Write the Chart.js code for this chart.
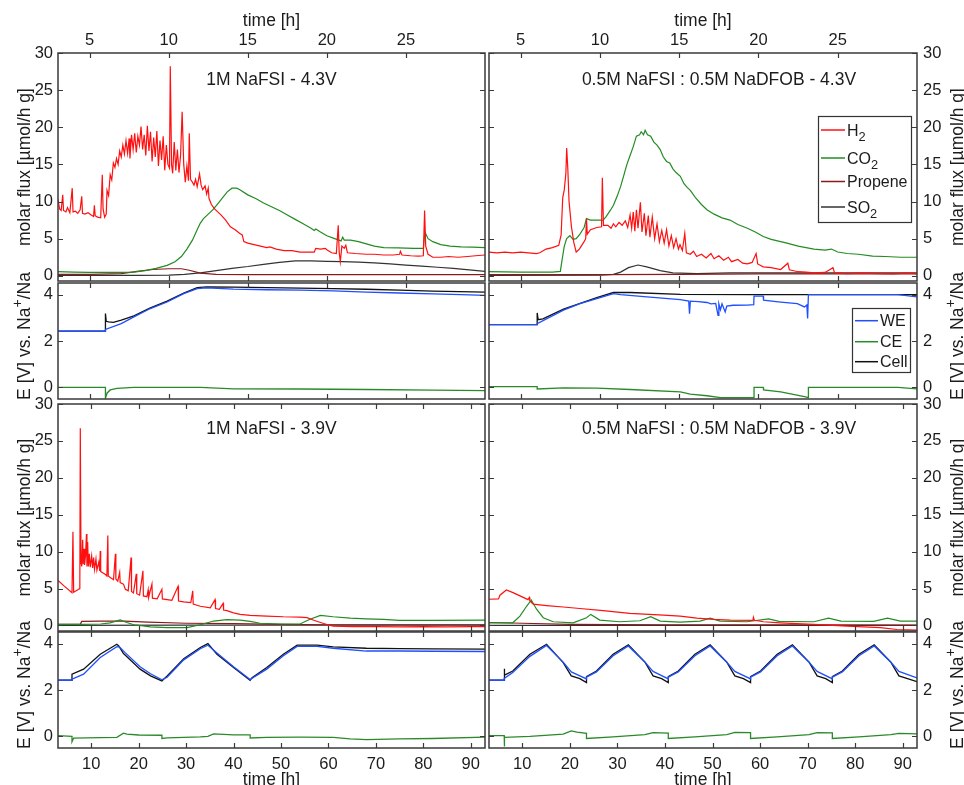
<!DOCTYPE html>
<html>
<head>
<meta charset="utf-8">
<script src="https://cdn.jsdelivr.net/npm/chart.js@4.4.1/dist/chart.umd.min.js"></script>
<style>
  body { margin: 0; background: #fff; }
  #wrap { position: relative; width: 964px; height: 785px; overflow: hidden; }
  #wrap canvas { position: absolute; left: 0; top: 0; }
</style>
</head>
<body>
<div id="wrap">
  <canvas id="c0" width="964" height="785"></canvas>
  <canvas id="c1" width="964" height="785"></canvas>
  <canvas id="c2" width="964" height="785"></canvas>
  <canvas id="c3" width="964" height="785"></canvas>
  <canvas id="c4" width="964" height="785"></canvas>
  <canvas id="c5" width="964" height="785"></canvas>
  <canvas id="c6" width="964" height="785"></canvas>
  <canvas id="c7" width="964" height="785"></canvas>
</div>
<script>
// ---- tick labels / text ----
var xTicksShort = [5, 10, 15, 20, 25];
var xTicksLong = [10, 20, 30, 40, 50, 60, 70, 80, 90];
var yTicksFlux = [0, 5, 10, 15, 20, 25, 30];
var yTicksVolt = [0, 2, 4];
var panelTitles = ['1M NaFSI - 4.3V', '0.5M NaFSI : 0.5M NaDFOB - 4.3V', '1M NaFSI - 3.9V', '0.5M NaFSI : 0.5M NaDFOB - 3.9V'];
var gasNames = ['H_2', 'CO_2', 'Propene', 'SO_2'];
var electrodeNames = ['WE', 'CE', 'Cell'];

// ---- 1M NaFSI - 4.3V (time [h], flux) ----
var h2_a = [[3.0,10.3],[3.1,9.0],[3.2,8.8],[3.3,10.9],[3.35,8.8],[3.5,8.6],[3.6,9.2],[3.75,8.5],[3.9,11.8],[3.95,8.6],[4.1,8.7],[4.25,8.4],[4.4,8.9],[4.5,10.7],[4.55,8.4],[4.7,8.3],[4.9,8.5],[5.1,8.2],[5.25,8.0],[5.3,9.5],[5.35,8.1],[5.5,7.9],[5.7,7.8],[5.8,13.6],[5.85,9.0],[5.95,7.9],[6.05,8.3],[6.1,11.5],[6.2,10.8],[6.3,13.6],[6.4,12.9],[6.5,15.2],[6.6,14.6],[6.7,15.8],[6.8,15.0],[6.9,16.8],[7.0,16.0],[7.1,17.6],[7.2,16.4],[7.3,18.2],[7.4,16.5],[7.5,18.5],[7.55,15.8],[7.65,19.0],[7.75,17.0],[7.85,19.2],[7.95,16.6],[8.05,18.8],[8.15,17.6],[8.25,20.1],[8.35,17.0],[8.45,19.0],[8.55,16.2],[8.65,20.2],[8.75,16.8],[8.85,19.4],[8.95,15.4],[9.05,18.6],[9.15,16.0],[9.25,19.5],[9.35,14.8],[9.45,18.2],[9.55,15.6],[9.65,18.8],[9.75,14.2],[9.85,17.6],[9.95,15.0],[10.05,14.5],[10.1,28.2],[10.18,15.0],[10.25,13.8],[10.35,18.0],[10.45,14.2],[10.55,17.0],[10.65,13.9],[10.75,16.2],[10.85,22.1],[10.95,15.0],[11.05,12.6],[11.15,14.8],[11.25,12.8],[11.3,19.2],[11.38,13.0],[11.5,12.6],[11.6,12.2],[11.7,13.0],[11.8,12.0],[11.95,13.7],[12.05,12.2],[12.15,11.6],[12.3,12.1],[12.4,11.0],[12.5,11.8],[12.55,10.4],[12.7,9.6],[12.9,9.0],[13.1,8.6],[13.3,8.2],[13.6,7.5],[13.9,6.6],[14.2,6.2],[14.5,5.7],[14.65,5.5],[14.75,4.6],[15.0,4.4],[15.4,4.2],[15.8,4.0],[16.2,3.8],[16.4,3.9],[16.8,3.6],[17.3,3.4],[17.8,3.4],[18.3,3.2],[18.8,3.2],[19.2,3.2],[19.3,3.7],[19.6,3.6],[19.9,3.7],[20.0,3.5],[20.3,3.1],[20.6,3.0],[20.72,6.8],[20.78,3.2],[20.85,1.9],[20.95,4.0],[21.1,3.7],[21.2,4.1],[21.3,3.1],[21.8,3.0],[22.5,2.9],[23.0,2.9],[23.6,2.8],[24.2,2.8],[24.6,2.9],[24.65,3.3],[24.75,2.8],[25.3,2.7],[25.8,2.65],[26.1,2.7],[26.18,8.8],[26.25,4.0],[26.4,2.9],[26.7,2.5],[27.2,2.5],[27.7,2.6],[28.3,2.5],[28.9,2.6],[29.4,2.7],[30.0,2.8]];
var co2_a = [[3,0.55],[4,0.5],[5,0.45],[6,0.45],[7,0.45],[7.8,0.5],[8.5,0.7],[9.2,1.0],[9.9,1.4],[10.4,1.9],[10.8,2.6],[11.15,3.6],[11.5,4.8],[11.8,6.2],[12.0,7.1],[12.2,7.7],[12.5,8.3],[12.8,8.9],[13.1,9.7],[13.4,10.5],[13.7,11.3],[14.0,11.8],[14.3,11.8],[14.5,11.6],[15.0,10.9],[15.5,10.4],[16.0,9.8],[16.5,9.3],[17.0,8.8],[17.5,8.2],[18.0,7.6],[18.5,7.0],[19.0,6.4],[19.2,6.1],[19.3,6.3],[19.6,5.9],[20.0,5.4],[20.5,5.0],[20.9,4.7],[21.0,5.2],[21.1,4.8],[21.5,4.8],[22.0,4.6],[22.5,4.3],[23.0,4.0],[23.6,3.8],[24.5,3.75],[25.5,3.7],[26.1,3.7],[26.2,5.9],[26.4,5.0],[26.7,4.6],[27.2,4.2],[27.8,4.0],[28.5,3.9],[29.2,3.85],[30,3.8]];
var prop_a = [[3,0.2],[5,0.2],[7,0.3],[8,0.6],[9,0.85],[10,0.95],[10.8,0.95],[11.3,0.75],[12,0.35],[13,0.2],[15,0.15],[20,0.15],[25,0.15],[30,0.15]];
var so2_a = [[3,0.05],[8,0.05],[10,0.1],[11,0.2],[12,0.4],[13,0.7],[14,1.0],[15,1.25],[16,1.55],[17,1.8],[18,2.0],[19,2.0],[20,1.95],[21,1.9],[22,1.85],[23,1.75],[24,1.6],[25,1.45],[26,1.3],[27,1.15],[28,1.0],[29,0.8],[30,0.6]];

// ---- 0.5M NaFSI : 0.5M NaDFOB - 4.3V ----
var h2_b = [[3,3.2],[3.5,3.1],[4,3.2],[4.5,3.1],[5,3.2],[5.5,3.1],[6,3.0],[6.2,3.1],[6.6,3.6],[7.0,3.8],[7.4,4.1],[7.55,5.5],[7.65,10.5],[7.75,11.6],[7.85,13.8],[7.9,17.2],[7.97,14.5],[8.05,10.0],[8.2,6.6],[8.35,4.5],[8.5,3.2],[8.7,3.6],[9.0,4.6],[9.1,5.0],[9.15,7.7],[9.2,5.6],[9.4,6.2],[9.8,6.5],[10.1,6.6],[10.15,13.2],[10.22,6.8],[10.5,6.8],[10.7,6.4],[10.85,7.0],[11.0,6.6],[11.2,7.2],[11.4,6.8],[11.6,7.4],[11.75,6.5],[11.9,8.2],[12.0,6.4],[12.1,8.6],[12.2,6.0],[12.3,8.9],[12.4,6.4],[12.55,9.9],[12.65,5.9],[12.8,8.4],[12.9,5.4],[13.05,8.1],[13.15,5.2],[13.3,7.9],[13.45,5.0],[13.6,7.0],[13.75,4.6],[13.9,6.1],[14.05,4.4],[14.2,6.2],[14.35,4.0],[14.5,5.4],[14.65,3.8],[14.8,5.0],[14.95,3.6],[15.05,4.2],[15.2,3.4],[15.35,5.7],[15.45,3.1],[15.7,2.9],[15.9,3.3],[16.1,2.6],[16.4,2.9],[16.7,2.4],[17.0,3.0],[17.2,2.3],[17.5,2.7],[17.8,2.1],[18.1,2.5],[18.3,1.9],[18.7,2.2],[19.0,1.7],[19.3,1.6],[19.6,1.8],[19.85,3.0],[19.95,1.6],[20.3,1.2],[20.8,1.1],[21.4,0.85],[21.85,1.7],[21.95,0.8],[22.5,0.55],[23.0,0.5],[23.5,0.4],[24.2,0.45],[24.7,1.1],[24.8,0.4],[25.6,0.3],[26.5,0.35],[27.7,0.3],[28.5,0.25],[29.3,0.35],[30,0.3]];
var co2_b = [[3,0.55],[5,0.5],[7,0.5],[7.5,0.6],[7.6,2.0],[7.75,4.0],[7.9,5.0],[8.1,5.4],[8.3,4.9],[8.5,5.0],[8.7,5.5],[9.0,6.5],[9.15,7.7],[9.4,7.5],[10.2,7.5],[10.4,8.0],[10.65,8.8],[10.85,9.5],[11.1,10.8],[11.3,12.0],[11.5,13.5],[11.7,15.0],[11.9,16.2],[12.1,17.4],[12.3,18.8],[12.5,19.0],[12.6,19.4],[12.75,19.0],[12.85,19.6],[13.0,19.0],[13.2,18.8],[13.4,18.0],[13.6,17.6],[13.8,17.0],[14.0,16.0],[14.2,15.4],[14.4,15.2],[14.6,14.4],[14.8,13.9],[15.07,13.4],[15.3,12.4],[15.5,11.9],[15.7,11.5],[16.0,10.6],[16.4,9.6],[16.75,8.9],[17.2,8.3],[17.7,7.8],[18.2,7.5],[18.7,6.9],[19.3,6.4],[19.8,5.9],[20.3,5.3],[20.8,4.9],[21.4,4.6],[21.8,4.4],[22.5,4.0],[23.0,3.8],[23.5,3.6],[24.2,3.45],[24.6,3.6],[25.0,3.2],[25.6,3.0],[26.3,2.9],[27.2,2.65],[28.0,2.6],[29,2.5],[30,2.5]];
var prop_b = [[3,0.15],[10,0.15],[15,0.2],[20,0.25],[25,0.25],[30,0.25]];
var so2_b = [[3,0.05],[10,0.1],[10.85,0.2],[11.3,0.5],[11.8,1.1],[12.4,1.45],[12.95,1.2],[13.8,0.7],[14.6,0.4],[16.1,0.3],[18.2,0.4],[22,0.4],[26,0.4],[30,0.4]];

// ---- 1M NaFSI - 3.9V ----
var h2_c = [[3,6.1],[4.2,5.4],[5.95,4.45],[6.15,12.7],[6.3,4.5],[7.35,4.9],[7.6,5.0],[7.7,26.7],[7.85,8.5],[8.0,8.0],[8.2,11.6],[8.3,8.3],[8.5,10.4],[8.6,8.2],[8.8,9.5],[9.0,12.4],[9.1,8.0],[9.25,11.3],[9.4,8.0],[9.6,9.7],[9.8,7.9],[10.1,9.4],[10.3,7.8],[10.5,9.2],[10.7,7.6],[11.0,9.0],[11.2,7.5],[11.6,8.6],[11.8,7.4],[11.9,10.1],[12.0,7.3],[12.5,7.1],[13.0,6.9],[13.3,6.7],[13.5,12.2],[13.6,6.7],[14.0,6.5],[14.5,6.3],[14.7,6.2],[15.1,9.7],[15.2,6.3],[15.6,6.0],[16.0,7.2],[16.1,5.8],[16.8,5.6],[17.2,4.9],[17.8,4.7],[18.4,9.2],[18.5,4.6],[18.9,4.4],[19.5,7.0],[19.6,4.3],[20.2,4.1],[20.9,7.4],[21.0,4.0],[21.75,3.9],[22.0,4.8],[22.1,3.8],[22.8,5.6],[22.9,3.7],[23.9,3.6],[24.9,4.9],[25.0,3.6],[26.0,3.5],[27.0,3.4],[28.3,5.3],[28.4,3.3],[29.5,3.2],[31.0,3.1],[31.4,4.7],[31.5,2.9],[33,2.6],[35.1,2.4],[36.1,3.5],[36.2,2.3],[37.0,2.2],[37.8,3.0],[37.9,2.1],[38.6,2.0],[40,1.7],[41.4,1.5],[43.5,1.36],[47,1.27],[50.5,1.18],[54,1.14],[55.5,1.05],[56.9,0.7],[59,0.27],[60.4,0.0],[61,-0.1],[65,-0.15],[70,-0.15],[75,-0.2],[80,-0.15],[85,-0.2],[90,-0.15],[93,-0.15]];
var co2_c = [[3,0.15],[8,0.15],[12,0.2],[14,0.36],[16.1,0.75],[17.5,0.4],[19,0.1],[22.5,-0.18],[26,-0.3],[30.2,-0.3],[33,0.1],[35.8,0.6],[38.6,0.8],[41.4,0.73],[43.5,0.55],[45.6,0.3],[50,0.2],[54,0.2],[56,0.8],[58.3,1.36],[61,1.18],[64.6,1.0],[68,0.9],[71.6,0.82],[75,0.68],[82,0.68],[93,0.73]];
var prop_c = [[3,0.15],[7.7,0.15],[8,0.55],[12,0.6],[17,0.6],[22,0.45],[30,0.3],[40,0.25],[50,0.15],[60,0.1],[93,0.1]];
var so2_c = [[3,0.0],[30,0.05],[60,0.05],[93,0.05]];

// ---- 0.5M NaFSI : 0.5M NaDFOB - 3.9V ----
var h2_d = [[3,3.55],[5.0,3.6],[5.3,4.1],[6.65,4.8],[8.05,4.45],[10.2,3.8],[11.2,3.5],[11.5,3.8],[11.6,3.3],[12.3,2.9],[15.1,2.7],[18.6,2.5],[22.1,2.3],[27,2.0],[32.6,1.65],[39.7,1.4],[43.2,1.27],[46.7,1.0],[50.2,0.82],[53.7,0.73],[58.5,0.7],[58.6,1.1],[58.8,0.7],[60.7,0.5],[64.2,0.36],[71.3,0.14],[78.3,-0.1],[85.3,-0.3],[88.8,-0.55],[93,-0.64]];
var co2_d = [[3,0.36],[8,0.36],[9.5,1.27],[10.9,2.6],[11.9,3.45],[13,2.2],[14.4,1.05],[16.5,0.5],[20.7,0.36],[23.5,1.05],[24.4,1.5],[26.3,0.73],[30.5,0.5],[34.7,0.64],[37,1.18],[39,0.6],[43.2,0.45],[47.4,0.6],[49.5,1.0],[51.6,0.6],[57.2,0.5],[61.8,0.9],[64,0.55],[71.3,0.5],[74.4,1.0],[77,0.6],[83.9,0.55],[86.8,1.0],[89.5,0.6],[93,0.6]];
var prop_d = [[3,0.4],[10,0.3],[20,0.15],[40,0.1],[70,0.1],[93,0.05]];
var so2_d = [[3,0.0],[93,0.0]];

// ---- potentials E [V] ----
var we_a = [[3,2.42],[6.0,2.42],[6.0,2.5],[7,2.75],[7.8,3.04],[8.84,3.4],[9.9,3.68],[10.95,4.04],[11.8,4.26],[12.4,4.29],[14.1,4.24],[16.2,4.21],[18.3,4.19],[20.4,4.16],[22.5,4.11],[24.6,4.07],[26.7,4.03],[28.5,4.0],[30,3.97]];
var cell_a = [[3,2.42],[6.0,2.42],[6.0,3.18],[6.05,2.85],[6.2,2.82],[6.5,2.8],[7,2.9],[7.8,3.08],[8.84,3.43],[9.9,3.72],[10.95,4.06],[11.8,4.3],[12.4,4.33],[14.1,4.32],[16.2,4.3],[18.3,4.28],[20.4,4.26],[22.5,4.23],[24.6,4.19],[26.7,4.15],[30,4.11]];
var ce_a = [[3,0],[6.0,0],[6.0,-0.47],[6.1,-0.25],[6.3,-0.11],[6.73,-0.04],[7.8,0],[12,0],[14.1,-0.06],[18.3,-0.07],[22.5,-0.09],[26.7,-0.12],[30,-0.14]];

var we_b = [[3,2.71],[6.04,2.71],[6.04,2.75],[7.7,3.33],[8.74,3.61],[9.8,3.83],[10.85,4.04],[11.3,4.0],[12.96,3.9],[15.07,3.78],[15.6,3.72],[15.65,3.18],[15.7,3.72],[16.2,3.7],[16.75,3.66],[17.0,3.6],[17.3,3.62],[17.45,3.11],[17.5,3.6],[17.6,3.35],[17.7,3.6],[17.9,3.25],[18.0,3.5],[18.4,3.54],[19.3,3.55],[19.7,3.57],[19.72,3.93],[20.3,3.93],[20.32,3.76],[21.4,3.68],[22.45,3.61],[22.9,3.47],[23.05,3.55],[23.1,2.97],[23.15,4.0],[25.6,4.0],[28.8,4.0],[30,3.9]];
var cell_b = [[3,2.71],[6.04,2.71],[6.04,3.21],[6.1,2.92],[6.4,2.95],[7.7,3.37],[9.8,3.87],[10.85,4.09],[11.9,4.09],[15.07,4.01],[20,4.0],[25,4.0],[30,4.0]];
var ce_b = [[3,0.03],[6.04,0.03],[6.04,-0.07],[7.7,-0.02],[9.8,-0.03],[11.9,-0.09],[15.07,-0.19],[15.7,-0.29],[16.75,-0.36],[17.6,-0.44],[19.3,-0.44],[19.72,-0.44],[19.72,0],[20.3,0],[20.32,-0.11],[21.4,-0.19],[22.9,-0.4],[23.15,-0.44],[23.15,0],[28.8,0],[30,-0.06]];

var we_c = [[3,2.42],[5.95,2.42],[5.95,2.47],[8.4,2.68],[11.9,3.4],[15.4,3.87],[16.0,3.85],[17.2,3.6],[20.3,3.0],[22.5,2.7],[24.9,2.44],[26,2.55],[29.5,3.3],[33,3.78],[34.6,3.93],[36.5,3.6],[40,3.0],[43.5,2.45],[47,2.9],[50.5,3.48],[53.4,3.88],[57.6,3.88],[61,3.8],[68,3.68],[75,3.68],[82,3.67],[93,3.66]];
var cell_c = [[3,2.42],[5.95,2.42],[5.95,2.68],[8.4,2.9],[11.9,3.54],[15.4,3.97],[15.8,3.9],[16.8,3.57],[17.2,3.5],[20.3,2.9],[22.5,2.61],[24.9,2.39],[26,2.61],[29.5,3.35],[33,3.83],[34.6,4.0],[36.5,3.54],[40,2.97],[43.5,2.42],[43.9,2.53],[47,2.97],[50.5,3.54],[53.4,3.93],[57.6,3.93],[61,3.86],[68,3.8],[75,3.78],[82,3.77],[93,3.76]];
var ce_c = [[3,0.03],[5.95,0.0],[5.95,-0.23],[6.3,-0.07],[11.9,-0.05],[15.4,-0.04],[16.8,0.14],[17.5,0.1],[20,0.06],[24.9,0.05],[24.9,-0.09],[26,-0.06],[33,-0.02],[34.6,0.0],[35.8,0.11],[40,0.07],[43.5,0.07],[43.5,-0.07],[47,-0.04],[54,-0.03],[61,-0.04],[64.6,-0.11],[68,-0.14],[75,-0.11],[82,-0.09],[93,-0.03]];

var we_d = [[3,2.42],[6.2,2.42],[6.2,2.5],[8,2.75],[11.6,3.45],[15.1,3.92],[18.6,3.2],[20.3,2.78],[23.5,2.48],[23.5,2.55],[25.6,2.78],[29.1,3.48],[32.3,3.9],[35.8,3.2],[37.5,2.8],[40.7,2.48],[40.7,2.55],[42.8,2.78],[46.3,3.48],[49.5,3.9],[53,3.2],[54.7,2.8],[58,2.48],[58,2.55],[60.1,2.78],[63.6,3.48],[66.8,3.9],[70.3,3.2],[72,2.8],[75.2,2.48],[75.2,2.55],[77.3,2.78],[80.8,3.48],[84,3.9],[87.5,3.2],[89.2,2.8],[93,2.52]];
var cell_d = [[3,2.42],[6.2,2.42],[6.2,2.92],[6.3,2.64],[8,2.82],[11.6,3.54],[15.1,3.97],[18.6,3.18],[20.3,2.61],[22.1,2.49],[23.5,2.32],[23.5,2.58],[25.6,2.82],[29.1,3.54],[32.3,3.95],[35.8,3.2],[37.5,2.61],[39.3,2.49],[40.7,2.32],[40.7,2.58],[42.8,2.82],[46.3,3.54],[49.5,3.95],[53,3.2],[54.7,2.61],[56.5,2.49],[58,2.32],[58,2.58],[60.1,2.82],[63.6,3.54],[66.8,3.95],[70.3,3.2],[72,2.61],[73.8,2.49],[75.2,2.32],[75.2,2.58],[77.3,2.82],[80.8,3.54],[84,3.95],[87.5,3.2],[89.2,2.61],[91,2.49],[93,2.36]];
var ce_d = [[3,0.03],[6.2,0.03],[6.2,-0.44],[6.3,-0.04],[11.6,0.0],[18.6,0.1],[20.3,0.24],[21.5,0.18],[23.5,0.13],[23.5,-0.09],[29.1,-0.02],[35.8,0.08],[37.5,0.16],[40.7,0.14],[40.7,-0.09],[46.3,-0.02],[53,0.08],[54.7,0.17],[58,0.16],[58,-0.09],[63.6,-0.02],[70.3,0.08],[72,0.16],[75.2,0.15],[75.2,-0.09],[80.8,-0.02],[87.5,0.08],[89.2,0.13],[93,0.11]];

// ---- styling ----
var FONT = '"Liberation Sans", Arial, Helvetica, sans-serif';
var TXT = '#1c1c1c';
var gasColors = ['#ff1010', '#238b23', '#8b1a1a', '#333333'];
var elColors = ['#1f4fff', '#2a8a2a', '#111111'];

Chart.defaults.font.family = FONT;
Chart.defaults.color = TXT;

function pts(arr) {
    return arr.map(function (p) { return { x: p[0], y: p[1] }; });
}

function parts(label) {
    // 'CO_2' -> CO with subscript 2
    var s = label.split('_');
    return s.length > 1 ? [[s[0], 0], [s[1], -1]] : [[s[0], 0]];
}

function drawRich(ctx, items, x, y, size, align) {
    var w = 0;
    items.forEach(function (it) {
        ctx.font = (it[1] ? size * 0.8 : size) + 'px ' + FONT;
        w += ctx.measureText(it[0]).width;
    });
    var cx = align === 'center' ? x - w / 2 : x;
    ctx.textAlign = 'left';
    ctx.textBaseline = 'alphabetic';
    items.forEach(function (it) {
        var s = it[1] ? size * 0.8 : size;
        ctx.font = s + 'px ' + FONT;
        var dy = it[1] === -1 ? size * 0.35 : (it[1] === 1 ? -size * 0.42 : 0);
        ctx.fillText(it[0], cx, y + dy);
        cx += ctx.measureText(it[0]).width;
    });
}

// box, inward ticks, titles and legends (MATLAB-like)
var framePlugin = {
    id: 'frame',
    afterDatasetsDraw: function (chart, args, o) {
        var ctx = chart.ctx, a = chart.chartArea;
        var sx = chart.scales.x, sy = chart.scales.y;
        ctx.save();
        ctx.strokeStyle = '#3a3a3a';
        ctx.lineWidth = 1.5;
        ctx.strokeRect(a.left, a.top, a.right - a.left, a.bottom - a.top);
        ctx.lineWidth = 1.2;
        ctx.beginPath();
        o.xTicks.forEach(function (v) {
            var px = Math.round(sx.getPixelForValue(v)) + 0.5;
            ctx.moveTo(px, a.top); ctx.lineTo(px, a.top + 5);
            ctx.moveTo(px, a.bottom); ctx.lineTo(px, a.bottom - 5);
        });
        o.yTicks.forEach(function (v) {
            var py = Math.round(sy.getPixelForValue(v)) + 0.5;
            ctx.moveTo(a.left, py); ctx.lineTo(a.left + 5, py);
            ctx.moveTo(a.right, py); ctx.lineTo(a.right - 5, py);
        });
        ctx.stroke();

        ctx.fillStyle = TXT;
        if (o.title) {
            drawRich(ctx, [[o.title, 0]], (a.left + a.right) / 2 + o.titleDx, a.top + o.titleDy, 17.5, 'center');
        }
        if (o.timeLabel) {
            drawRich(ctx, [['time [h]', 0]], (a.left + a.right) / 2, o.timeLabel, 17.5, 'center');
        }
        // y axis title, rotated, reading upwards
        ctx.save();
        ctx.translate(o.yTitleX, (a.top + a.bottom) / 2 + o.yTitleDy);
        ctx.rotate(-Math.PI / 2);
        drawRich(ctx, o.yTitle, 0, 0, 17.5, 'center');
        ctx.restore();

        if (o.legend) {
            var L = o.legend;
            ctx.fillStyle = '#fff';
            ctx.fillRect(L.box[0], L.box[1], L.box[2] - L.box[0], L.box[3] - L.box[1]);
            ctx.strokeStyle = '#333';
            ctx.lineWidth = 1.2;
            ctx.strokeRect(L.box[0] + 0.5, L.box[1] + 0.5, L.box[2] - L.box[0], L.box[3] - L.box[1]);
            chart.data.datasets.forEach(function (ds, i) {
                var yy = L.rows[i];
                ctx.strokeStyle = ds.borderColor;
                ctx.lineWidth = 1.5;
                ctx.beginPath();
                ctx.moveTo(L.line[0], yy); ctx.lineTo(L.line[1], yy);
                ctx.stroke();
                ctx.fillStyle = TXT;
                drawRich(ctx, parts(ds.label), L.line[1] + 2, yy + 5.5, 16, 'left');
            });
        }
        ctx.restore();
    }
};

var W = 964, H = 785;
var COLS = [
    { L: 58, R: 485, side: 'left', yTitleX: 29.5, titleDx: 0 },
    { L: 489, R: 917, side: 'right', yTitleX: 962.5, titleDx: 16 }
];
var FLUX_TITLE = [['molar flux [µmol/h g]', 0]];
var VOLT_TITLE = [['E [V] vs. Na', 0], ['+', 1], ['/Na', 0]];
var ROWS = [
    { T: 53, B: 281, ymin: -0.7, ymax: 30, xmax: 30, xTicks: xTicksShort, yTicks: yTicksFlux, xPos: 'top', yTitle: FLUX_TITLE, yTitleDy: 0, titleDy: 32, timeLabel: 26 },
    { T: 283, B: 399, ymin: -0.5, ymax: 4.5, xmax: 30, xTicks: xTicksShort, yTicks: yTicksVolt, xPos: null, yTitle: VOLT_TITLE, yTitleDy: -5 },
    { T: 404, B: 631, ymin: -0.75, ymax: 30, xmax: 93, xTicks: xTicksLong, yTicks: yTicksFlux, xPos: null, yTitle: FLUX_TITLE, yTitleDy: 0, titleDy: 30 },
    { T: 632, B: 748, ymin: -0.5, ymax: 4.5, xmax: 93, xTicks: xTicksLong, yTicks: yTicksVolt, xPos: 'bottom', yTitle: VOLT_TITLE, yTitleDy: -5, timeLabel: 784.5 }
];

function gasSets(h2, co2, prop, so2) {
    return [h2, co2, prop, so2].map(function (d, i) {
        return { label: gasNames[i], data: pts(d), borderColor: gasColors[i], borderWidth: 1.2 };
    });
}
function elSets(we, ce, cell) {
    return [we, ce, cell].map(function (d, i) {
        return { label: electrodeNames[i], data: pts(d), borderColor: elColors[i], borderWidth: 1.3 };
    });
}

function makePanel(id, ci, ri, datasets, title, legend) {
    var col = COLS[ci], row = ROWS[ri];
    var yW = col.side === 'left' ? col.L : W - col.R;
    var xH = row.xPos === 'top' ? row.T : (row.xPos === 'bottom' ? H - row.B : 0);
    var pad = {
        left: col.side === 'left' ? 0 : col.L,
        right: col.side === 'right' ? 0 : W - col.R,
        top: row.xPos === 'top' ? 0 : row.T,
        bottom: row.xPos === 'bottom' ? 0 : H - row.B
    };
    return new Chart(document.getElementById(id), {
        type: 'line',
        data: { datasets: datasets },
        options: {
            responsive: false,
            animation: false,
            devicePixelRatio: 1,
            events: [],
            layout: { padding: pad },
            elements: { point: { radius: 0 }, line: { tension: 0 } },
            plugins: {
                legend: { display: false },
                tooltip: { enabled: false },
                frame: {
                    xTicks: row.xTicks, yTicks: row.yTicks,
                    title: title, titleDx: col.titleDx, titleDy: row.titleDy,
                    timeLabel: row.timeLabel,
                    yTitle: row.yTitle, yTitleX: col.yTitleX, yTitleDy: row.yTitleDy,
                    legend: legend
                }
            },
            scales: {
                x: {
                    type: 'linear',
                    position: row.xPos || 'bottom',
                    min: 3, max: row.xmax,
                    grid: { display: false, drawTicks: false },
                    border: { display: false },
                    ticks: {
                        display: !!row.xPos,
                        font: { size: 16.5 },
                        color: TXT,
                        padding: row.xPos === 'top' ? 3 : 7,
                        maxRotation: 0,
                        autoSkip: false,
                        callback: function (v) { return String(v); }
                    },
                    afterBuildTicks: function (s) { s.ticks = row.xTicks.map(function (v) { return { value: v }; }); },
                    afterFit: function (s) { s.height = xH; }
                },
                y: {
                    type: 'linear',
                    position: col.side,
                    min: row.ymin, max: row.ymax,
                    grid: { display: false, drawTicks: false },
                    border: { display: false },
                    ticks: {
                        font: { size: 16.5 },
                        color: TXT,
                        padding: col.side === 'left' ? 5 : 6,
                        callback: function (v) { return String(v); }
                    },
                    afterBuildTicks: function (s) { s.ticks = row.yTicks.map(function (v) { return { value: v }; }); },
                    afterFit: function (s) { s.width = yW; }
                }
            }
        },
        plugins: [framePlugin]
    });
}

var gasLegend = { box: [818, 116, 911, 222], rows: [130, 158, 181.5, 207], line: [821, 845] };
var elLegend = { box: [852, 308, 910, 372], rows: [320.7, 341.7, 361.7], line: [855, 878] };

makePanel('c0', 0, 0, gasSets(h2_a, co2_a, prop_a, so2_a), panelTitles[0], null);
makePanel('c1', 1, 0, gasSets(h2_b, co2_b, prop_b, so2_b), panelTitles[1], gasLegend);
makePanel('c2', 0, 1, elSets(we_a, ce_a, cell_a), null, null);
makePanel('c3', 1, 1, elSets(we_b, ce_b, cell_b), null, elLegend);
makePanel('c4', 0, 2, gasSets(h2_c, co2_c, prop_c, so2_c), panelTitles[2], null);
makePanel('c5', 1, 2, gasSets(h2_d, co2_d, prop_d, so2_d), panelTitles[3], null);
makePanel('c6', 0, 3, elSets(we_c, ce_c, cell_c), null, null);
makePanel('c7', 1, 3, elSets(we_d, ce_d, cell_d), null, null);
</script>
</body>
</html>
